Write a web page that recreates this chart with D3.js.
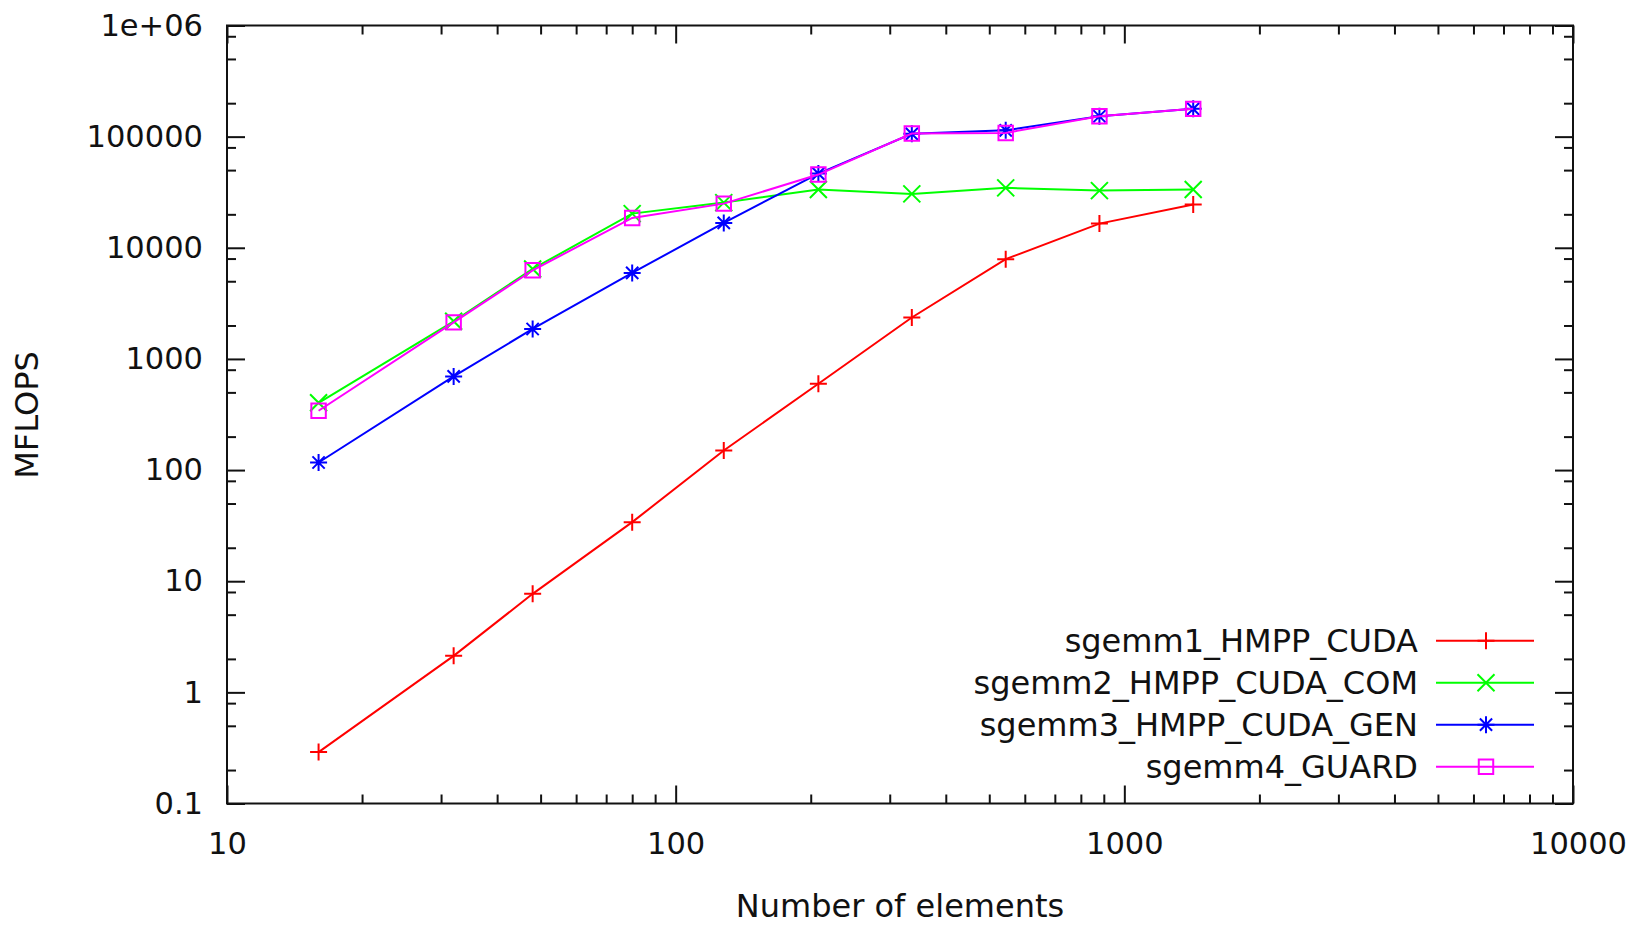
<!DOCTYPE html>
<html>
<head>
<meta charset="utf-8">
<script src="https://cdn.jsdelivr.net/npm/d3@7"></script>
<style>
  body { margin: 0; background: #fff; }
  svg text { font-family: "DejaVu Sans", sans-serif; font-size: 32px; fill: #111; }
  svg .axis text { font-size: 30.5px; }
  .axis path, .axis line { stroke: #111; stroke-width: 2px; }
  .axis .domain { display: none; }
</style>
</head>
<body>
<div id="chart"></div>
<script>
/* global d3 */

// data
const sizes = [16, 32, 48, 80, 128, 208, 336, 544, 880, 1424];
const sgemm1 = [0.29, 2.13, 7.7, 34, 150, 598, 2360, 7900, 16500, 24500];
const sgemm2 = [403, 2180, 6450, 20300, 25500, 33400, 30550, 34600, 32700, 33400];
const sgemm3 = [117, 696, 1860, 5940, 16740, 46500, 106000, 114000, 152600, 177800];
const sgemm4 = [342, 2133, 6266, 18570, 24970, 45570, 106600, 108000, 152600, 177800];

const seriesNames = ['sgemm1_HMPP_CUDA', 'sgemm2_HMPP_CUDA_COM', 'sgemm3_HMPP_CUDA_GEN', 'sgemm4_GUARD'];
const seriesColors = ['#ff0000', '#00ff00', '#0000ff', '#ff00ff'];
const seriesSymbols = ['plus', 'cross', 'star', 'square'];

const xTicks = [10, 100, 1000, 10000];
const xTickLabels = ['10', '100', '1000', '10000'];
const yTicks = [0.1, 1, 10, 100, 1000, 10000, 100000, 1000000];
const yTickLabels = ['0.1', '1', '10', '100', '1000', '10000', '100000', '1e+06'];

const xLabel = 'Number of elements';
const yLabel = 'MFLOPS';

// dimensions
const WIDTH = 1632;
const HEIGHT = 925;
const LEFT = 227;
const RIGHT = 1573;
const TOP = 25.5;
const BOTTOM = 803.5;

const series = [sgemm1, sgemm2, sgemm3, sgemm4].map((vals, i) => ({
  name: seriesNames[i],
  color: seriesColors[i],
  symbol: seriesSymbols[i],
  values: vals.map((v, j) => ({ x: sizes[j], y: v }))
}));

// scales
const x = d3.scaleLog().domain([10, 10000]).range([LEFT, RIGHT]);
const y = d3.scaleLog().domain([0.1, 1e6]).range([BOTTOM, TOP]);

// minor tick positions
const xMinor = [];
xTicks.slice(0, -1).forEach(t => { for (let k = 2; k <= 9; k++) xMinor.push(t * k); });
const yMinor = [];
yTicks.slice(0, -1).forEach(t => { [2, 5, 8].forEach(k => yMinor.push(t * k)); });

// point symbols, gnuplot style
function symbolPath(type, r) {
  const p = d3.path();
  if (type === 'plus' || type === 'star') {
    p.moveTo(-r, 0); p.lineTo(r, 0);
    p.moveTo(0, -r); p.lineTo(0, r);
  }
  if (type === 'cross' || type === 'star') {
    const d = type === 'star' ? r * 0.72 : r;
    p.moveTo(-d, -d); p.lineTo(d, d);
    p.moveTo(-d, d); p.lineTo(d, -d);
  }
  if (type === 'square') {
    p.rect(-r * 0.85, -r * 0.85, r * 1.7, r * 1.7);
  }
  return p.toString();
}

const $svg = d3.select('#chart').append('svg')
  .attr('width', WIDTH)
  .attr('height', HEIGHT);

// axes (major + minor, mirrored on top / right)
const $axis = $svg.append('g').attr('class', 'g-axis');

$axis.append('g').attr('class', 'x axis')
  .attr('transform', `translate(0,${BOTTOM})`)
  .call(d3.axisBottom(x).tickValues(xTicks).tickSizeInner(-18).tickSizeOuter(0).tickPadding(29)
    .tickFormat((d, i) => xTickLabels[i]));
$axis.append('g').attr('class', 'x axis minor')
  .attr('transform', `translate(0,${BOTTOM})`)
  .call(d3.axisBottom(x).tickValues(xMinor).tickSizeInner(-9).tickSizeOuter(0).tickFormat(''));
$axis.append('g').attr('class', 'x axis')
  .attr('transform', `translate(0,${TOP})`)
  .call(d3.axisTop(x).tickValues(xTicks).tickSizeInner(-18).tickSizeOuter(0).tickFormat(''));
$axis.append('g').attr('class', 'x axis minor')
  .attr('transform', `translate(0,${TOP})`)
  .call(d3.axisTop(x).tickValues(xMinor).tickSizeInner(-9).tickSizeOuter(0).tickFormat(''));

$axis.append('g').attr('class', 'y axis')
  .attr('transform', `translate(${LEFT},0)`)
  .call(d3.axisLeft(y).tickValues(yTicks).tickSizeInner(-18).tickSizeOuter(0).tickPadding(24)
    .tickFormat((d, i) => yTickLabels[i]));
$axis.append('g').attr('class', 'y axis minor')
  .attr('transform', `translate(${LEFT},0)`)
  .call(d3.axisLeft(y).tickValues(yMinor).tickSizeInner(-9).tickSizeOuter(0).tickFormat(''));
$axis.append('g').attr('class', 'y axis')
  .attr('transform', `translate(${RIGHT},0)`)
  .call(d3.axisRight(y).tickValues(yTicks).tickSizeInner(-18).tickSizeOuter(0).tickFormat(''));
$axis.append('g').attr('class', 'y axis minor')
  .attr('transform', `translate(${RIGHT},0)`)
  .call(d3.axisRight(y).tickValues(yMinor).tickSizeInner(-9).tickSizeOuter(0).tickFormat(''));

$axis.selectAll('text').attr('font-size', null).attr('font-family', null).attr('fill', '#111');
// last x label sits a bit right of the axis end, as in the original
$axis.select('.x.axis').selectAll('.tick text').filter(d => d === 10000).attr('dx', 5);

// frame
$svg.append('rect')
  .attr('x', LEFT).attr('y', TOP)
  .attr('width', RIGHT - LEFT).attr('height', BOTTOM - TOP)
  .attr('fill', 'none').attr('stroke', '#111').attr('stroke-width', 2);

// axis titles
$svg.append('text')
  .attr('x', (LEFT + RIGHT) / 2).attr('y', 917)
  .attr('text-anchor', 'middle')
  .text(xLabel);
$svg.append('text')
  .attr('transform', 'translate(38,415) rotate(-90)')
  .attr('text-anchor', 'middle')
  .text(yLabel);

// lines + points
const line = d3.line().x(d => x(d.x)).y(d => y(d.y));
const $vis = $svg.append('g').attr('class', 'g-vis');

const $series = $vis.selectAll('g.series')
  .data(series)
  .join('g')
  .attr('class', 'series');

$series.append('path')
  .attr('d', d => line(d.values))
  .attr('fill', 'none')
  .attr('stroke', d => d.color)
  .attr('stroke-width', 2);

$series.each(function (s) {
  d3.select(this).selectAll('path.pt')
    .data(s.values)
    .join('path')
    .attr('class', 'pt')
    .attr('transform', d => `translate(${x(d.x)},${y(d.y)})`)
    .attr('d', symbolPath(s.symbol, 8.5))
    .attr('fill', 'none')
    .attr('stroke', s.color)
    .attr('stroke-width', 2);
});

// legend
const $legend = $svg.append('g').attr('class', 'legend');
const $rows = $legend.selectAll('g')
  .data(series)
  .join('g')
  .attr('transform', (d, i) => `translate(0,${640.7 + i * 42})`);

$rows.append('text')
  .attr('x', 1418)
  .attr('dy', '0.35em')
  .attr('text-anchor', 'end')
  .text(d => d.name);
$rows.append('line')
  .attr('x1', 1436).attr('x2', 1534)
  .attr('stroke', d => d.color)
  .attr('stroke-width', 2);
$rows.append('path')
  .attr('transform', 'translate(1486,0)')
  .attr('d', d => symbolPath(d.symbol, 8.5))
  .attr('fill', 'none')
  .attr('stroke', d => d.color)
  .attr('stroke-width', 2);
</script>
</body>
</html>
